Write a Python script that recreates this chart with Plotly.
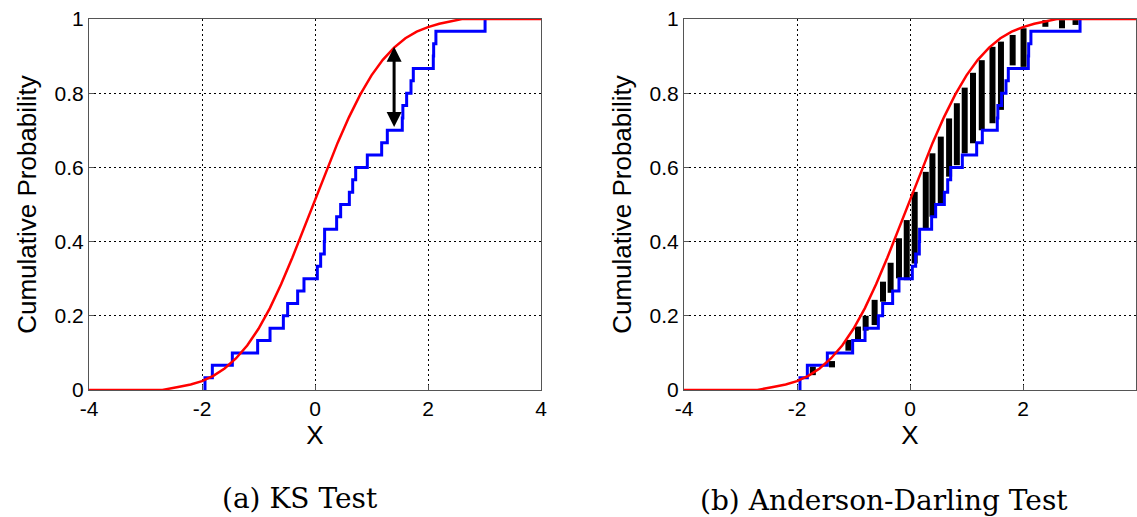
import plotly.graph_objects as go

# ---------------- data ----------------
samples = [-1.947, -1.817, -1.463, -1.015, -0.796, -0.560, -0.484, -0.307, -0.195,
           0.041, 0.100, 0.165, 0.170, 0.383, 0.454, 0.608, 0.667, 0.720, 0.926,
           1.180, 1.280, 1.545, 1.555, 1.622, 1.699, 1.740, 2.094, 2.100, 2.140, 3.010]

cdf_x = [-4.0, -2.7, -2.4, -2.2, -2.0, -1.8, -1.6, -1.4, -1.2, -1.0, -0.8, -0.6, -0.4,
         -0.2, 0.0, 0.2, 0.4, 0.6, 0.8, 1.0, 1.2, 1.4, 1.6, 1.8, 2.0, 2.2, 2.4, 2.6, 4.0]
cdf_y = [0.0, 0.0, 0.009, 0.015, 0.024, 0.038, 0.058, 0.085, 0.120, 0.165, 0.220, 0.285,
         0.357, 0.434, 0.512, 0.590, 0.666, 0.735, 0.796, 0.848, 0.890, 0.923, 0.948,
         0.966, 0.978, 0.987, 0.993, 1.0, 1.0]

ad_bar_x = [-1.72, -1.38, -1.09, -0.92, -0.785, -0.626, -0.478, -0.343, -0.195, -0.058,
            0.083, 0.279, 0.397, 0.545, 0.692, 0.829, 0.968, 1.115, 1.27, 1.46, 1.61,
            1.817, 2.01, 2.396, 2.69, 2.93]
ad_bar_lo = [0.040, 0.061, 0.106, 0.135, 0.160, 0.175, 0.238, 0.262, 0.301, 0.296,
             0.341, 0.436, 0.467, 0.503, 0.575, 0.606, 0.638, 0.665, 0.700, 0.719,
             0.755, 0.875, 0.871, 0.979, 0.975, 0.984]
ad_bar_hi = [0.063, 0.078, 0.135, 0.171, 0.200, 0.243, 0.292, 0.343, 0.409, 0.458,
             0.534, 0.588, 0.638, 0.683, 0.732, 0.773, 0.815, 0.855, 0.889, 0.925,
             0.939, 0.957, 0.975, 0.997, 0.997, 0.997]

ks_arrow_x = 1.40
ks_arrow_lo = 0.705
ks_arrow_hi = 0.925

x_ticks = [-4, -2, 0, 2, 4]
x_tick_labels = ["-4", "-2", "0", "2", "4"]
y_ticks = [0, 0.2, 0.4, 0.6, 0.8, 1]
y_tick_labels = ["0", "0.2", "0.4", "0.6", "0.8", "1"]
x_title = "X"
y_title = "Cumulative Probability"
captions = ["(a) KS Test", "(b) Anderson-Darling Test"]

# ---------------- derived ----------------
n = len(samples)
srt = sorted(samples)
ecdf_x = [srt[0]] + srt
ecdf_y = [0.0] + [(i + 1) / n for i in range(n)]

bar_x, bar_y = [], []
for bx, lo, hi in zip(ad_bar_x, ad_bar_lo, ad_bar_hi):
    bar_x += [bx, bx, None]
    bar_y += [lo, hi, None]

BLUE = "#0000ff"
RED = "#ff0000"
SANS = "Liberation Sans, Arial, sans-serif"

fig = go.Figure()

# left panel: KS
fig.add_trace(go.Scatter(x=ecdf_x, y=ecdf_y, mode="lines", line=dict(color=BLUE, width=3, shape="hv"),
                         xaxis="x", yaxis="y", showlegend=False, hoverinfo="skip"))
fig.add_trace(go.Scatter(x=cdf_x, y=cdf_y, mode="lines", line=dict(color=RED, width=2.5),
                         xaxis="x", yaxis="y", showlegend=False, hoverinfo="skip"))

# right panel: Anderson-Darling
fig.add_trace(go.Scatter(x=bar_x, y=bar_y, mode="lines", line=dict(color="black", width=6),
                         xaxis="x2", yaxis="y2", showlegend=False, hoverinfo="skip"))
fig.add_trace(go.Scatter(x=ecdf_x, y=ecdf_y, mode="lines", line=dict(color=BLUE, width=3, shape="hv"),
                         xaxis="x2", yaxis="y2", showlegend=False, hoverinfo="skip"))
fig.add_trace(go.Scatter(x=cdf_x, y=cdf_y, mode="lines", line=dict(color=RED, width=2.5),
                         xaxis="x2", yaxis="y2", showlegend=False, hoverinfo="skip"))

W, H = 1137, 517
y_dom = [1 - 390 / H, 1 - 19 / H]

def xax(domain, anchor):
    return dict(domain=domain, anchor=anchor, range=[-4, 4], tickvals=x_ticks, ticktext=x_tick_labels,
                ticks="inside", ticklen=5, tickcolor="#555", showline=True, linecolor="#555",
                linewidth=1, mirror=True, showgrid=True, gridcolor="black", gridwidth=1,
                griddash="2px,3px", zeroline=False, automargin=False,
                tickfont=dict(family=SANS, size=21, color="black"),
                title=dict(text=x_title, font=dict(family=SANS, size=26, color="black"), standoff=6))

def yax(anchor):
    return dict(domain=y_dom, anchor=anchor, range=[0, 1], tickvals=y_ticks, ticktext=y_tick_labels,
                ticks="inside", ticklen=5, tickcolor="#555", showline=True, linecolor="#555",
                linewidth=1, mirror=True, showgrid=True, gridcolor="black", gridwidth=1,
                griddash="2px,3px", zeroline=False, automargin=False,
                tickfont=dict(family=SANS, size=21, color="black"),
                title=dict(text=y_title, font=dict(family=SANS, size=26, color="black"), standoff=10))

fig.update_layout(
    width=W, height=H, margin=dict(l=0, r=0, t=0, b=0),
    paper_bgcolor="white", plot_bgcolor="white",
    xaxis=xax([89 / W, 541 / W], "y"),
    yaxis=yax("x"),
    xaxis2=xax([684 / W, 1136 / W], "y2"),
    yaxis2=yax("x2"),
    annotations=[
        dict(x=ks_arrow_x, y=ks_arrow_hi, ax=ks_arrow_x, ay=ks_arrow_lo, xref="x", yref="y",
             axref="x", ayref="y", showarrow=True, arrowhead=2, startarrowhead=2,
             arrowside="end+start", arrowwidth=3, arrowsize=1, arrowcolor="black", text=""),
        dict(x=300 / W, y=1 - 498 / H, xref="paper", yref="paper", text=captions[0], showarrow=False,
             xanchor="center", yanchor="middle", font=dict(family="DejaVu Serif", size=28, color="black")),
        dict(x=884 / W, y=1 - 500 / H, xref="paper", yref="paper", text=captions[1], showarrow=False,
             xanchor="center", yanchor="middle", font=dict(family="DejaVu Serif", size=28, color="black")),
    ],
)

fig.write_html("out.html", config={"displayModeBar": False},
               post_script="document.body.style.margin='0';document.body.style.overflow='hidden';")
